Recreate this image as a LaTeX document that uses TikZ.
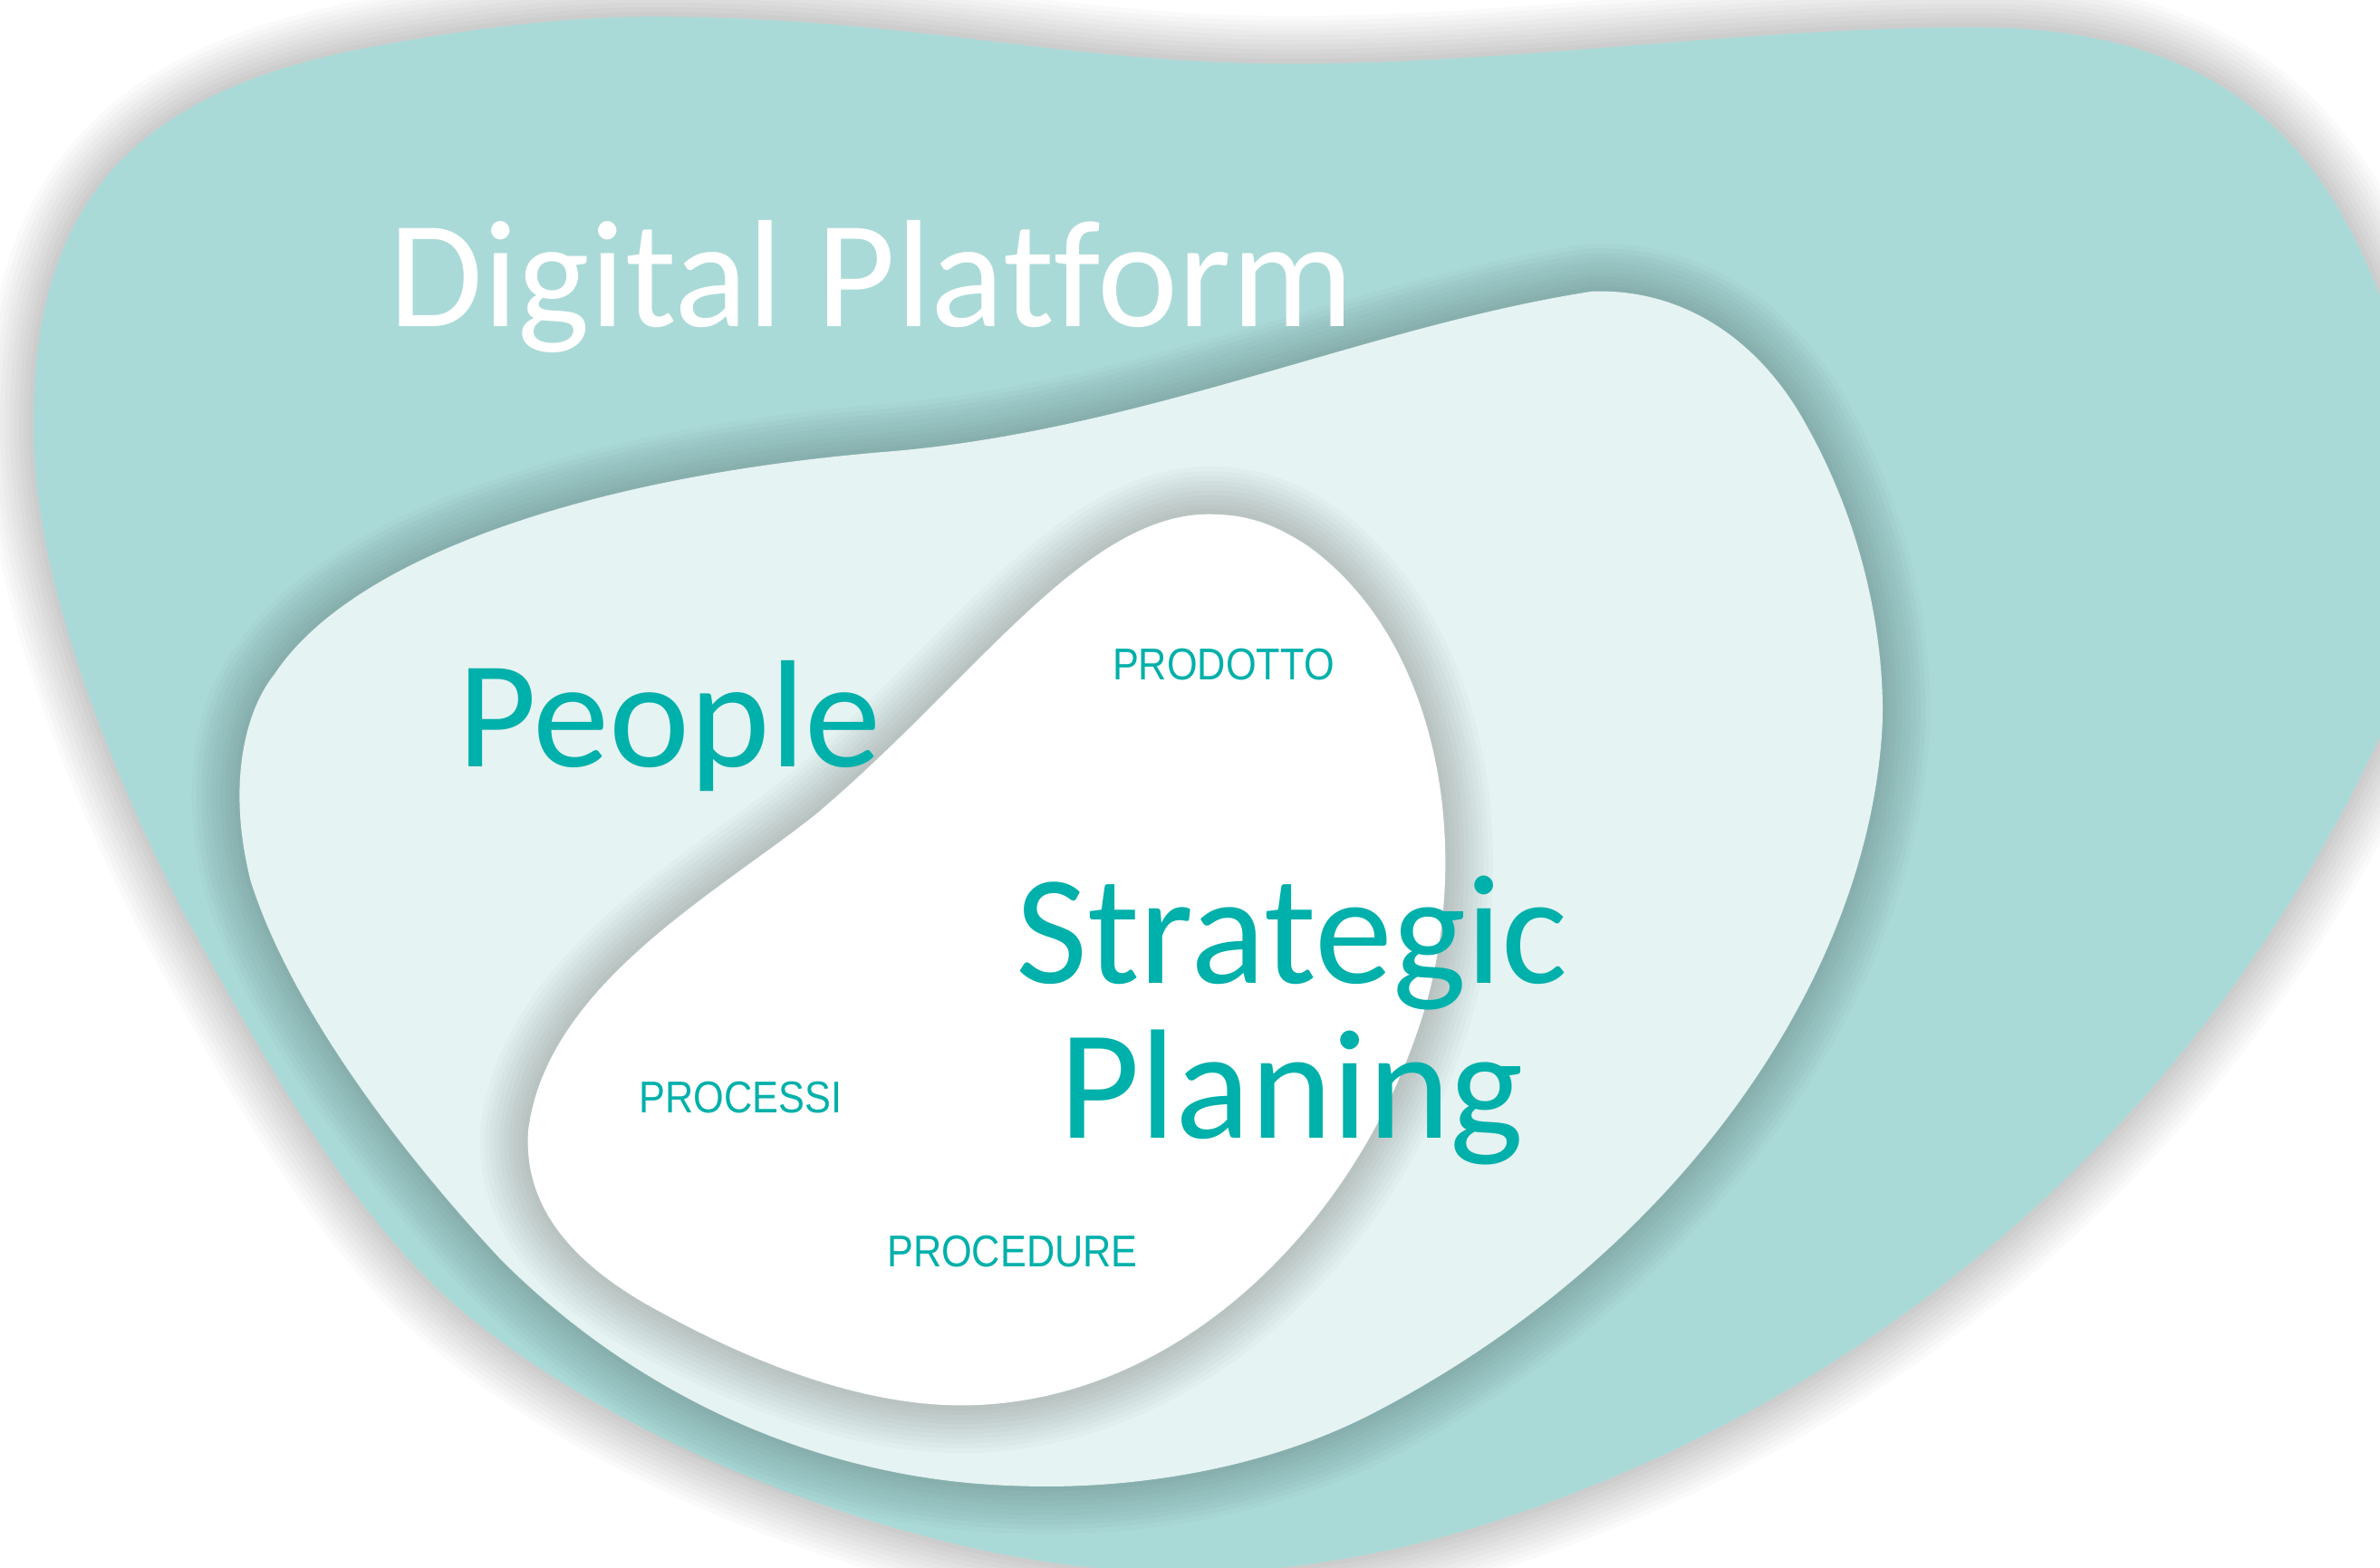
\documentclass[tikz,border=0pt]{standalone}
\usepackage{fontspec}
\setmainfont{Carlito}[Ligatures=NoCommon]
\newfontfamily\smallfont{Liberation Sans}[FakeStretch=0.88]
\definecolor{outerc}{RGB}{170,218,216}
\definecolor{midc}{RGB}{229,243,242}
\definecolor{tealc}{RGB}{0,176,170}
\tikzset{
  softshadow/.style={draw=black, fill=none, opacity=0.018, line join=round},
  bigtext/.style={font=\fontsize{48}{50}\selectfont, inner sep=0pt},
  lbl/.style={font=\smallfont\fontsize{14}{16}\selectfont, text=tealc, inner sep=0pt}
}
\begin{document}
\begin{tikzpicture}[x=0.016754cm, y=-0.016754cm]
\useasboundingbox (0,0) rectangle (1568,1033);
\fill[white] (0,0) rectangle (1568,1033);
\clip (0,0) rectangle (1568,1033);
% outer blob
\def\outerpath{(428,11) .. controls (600,11) and (700,42) .. (850,42)
 .. controls (1000,42) and (1150,18) .. (1300,18)
 .. controls (1450,18) and (1530,80) .. (1575,215)
 .. controls (1600,300) and (1600,400) .. (1568,485)
 .. controls (1450,740) and (1230,930) .. (960,1010)
 .. controls (880,1033) and (800,1040) .. (754,1035)
 .. controls (620,1032) and (420,960) .. (306,865)
 .. controls (230,802) and (170,690) .. (119,598)
 .. controls (60,480) and (22,370) .. (22,281)
 .. controls (22,140) and (80,60) .. (250,30)
 .. controls (330,15) and (390,11) .. (428,11) -- cycle}
\foreach \w in {3,6,...,30} {\draw[softshadow, line width=\w] \outerpath;}
\fill[outerc] \outerpath;
% middle blob
\def\midpath{(1049,192) .. controls (1110,190) and (1160,225) .. (1190,280)
 .. controls (1235,360) and (1242,440) .. (1240,480)
 .. controls (1230,650) and (1100,830) .. (905,931)
 .. controls (830,970) and (740,982) .. (668,979)
 .. controls (540,975) and (420,920) .. (330,830)
 .. controls (260,755) and (190,660) .. (165,580)
 .. controls (150,520) and (160,470) .. (181,444)
 .. controls (230,370) and (380,315) .. (580,298)
 .. controls (750,285) and (900,215) .. (1049,192) -- cycle}
\foreach \w in {3,6,...,30} {\draw[softshadow, line width=\w] \midpath;}
\fill[midc] \midpath;
% inner blob
\def\innerpath{(790,339) .. controls (710,345) and (640,450) .. (537,537)
 .. controls (470,590) and (360,650) .. (348,745)
 .. controls (345,790) and (370,830) .. (436,865)
 .. controls (500,900) and (570,926) .. (633,926)
 .. controls (780,926) and (900,800) .. (940,660)
 .. controls (970,550) and (945,420) .. (862,360)
 .. controls (835,342) and (815,338) .. (790,339) -- cycle}
\foreach \w in {3,6,...,30} {\draw[softshadow, line width=\w] \innerpath;}
\fill[white] \innerpath;
% texts
\node[bigtext, text=white, anchor=base west] (dp) at (256,215) {Digital Platform};
\node[bigtext, text=tealc, anchor=base west] (people) at (301,505) {People};
\node[bigtext, text=tealc, anchor=base, font=\fontsize{49}{52}\selectfont] (strat) at (851,648) {Strategic};
\node[bigtext, text=tealc, anchor=base, font=\fontsize{49}{52}\selectfont] (plan) at (851,750) {Planing};
\node[lbl, anchor=base] (prodotto) at (806,448) {PRODOTTO};
\node[lbl, anchor=base] (processi) at (488,733) {PROCESSI};
\node[lbl, anchor=base] (procedure) at (667,835) {PROCEDURE};
\end{tikzpicture}
\end{document}
